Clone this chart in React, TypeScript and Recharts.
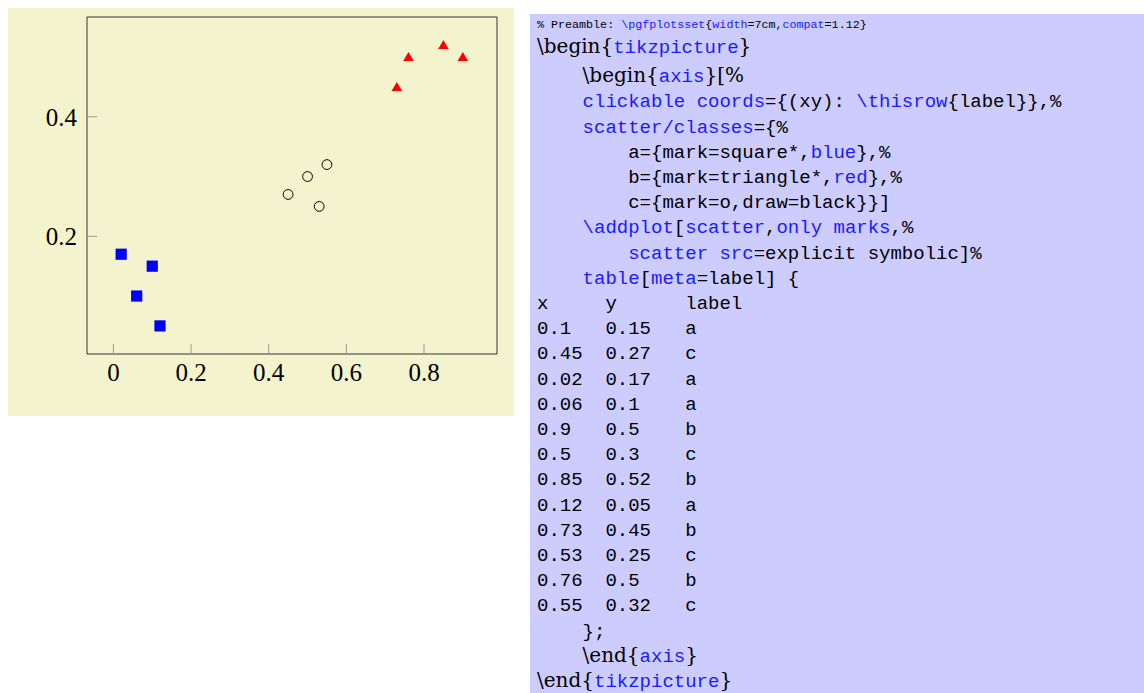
import React from 'react';
import { ScatterChart, Scatter, XAxis, YAxis } from 'recharts';

// table from the listing (x, y, class label)
const xValues = [0.1, 0.45, 0.02, 0.06, 0.9, 0.5, 0.85, 0.12, 0.73, 0.53, 0.76, 0.55];
const yValues = [0.15, 0.27, 0.17, 0.1, 0.5, 0.3, 0.52, 0.05, 0.45, 0.25, 0.5, 0.32];
const labels = ['a', 'c', 'a', 'a', 'b', 'c', 'b', 'a', 'b', 'c', 'b', 'c'];

const xTicks = [0, 0.2, 0.4, 0.6, 0.8];
const yTicks = [0.2, 0.4];
const xDomain = [-0.068, 0.988];
const yDomain = [0.003, 0.567];

const points = xValues.map((x, i) => ({ x, y: yValues[i], label: labels[i] }));
const classA = points.filter((p) => p.label === 'a');
const classB = points.filter((p) => p.label === 'b');
const classC = points.filter((p) => p.label === 'c');

const BLUE = '#1a1aff';
const MONO = '"Liberation Mono", monospace';
const ROMAN = '"DejaVu Serif", serif';

const SquareMark = (props: any) => (
  <rect x={props.cx - 5.6} y={props.cy - 5.6} width={11.2} height={11.2} fill="#0000ff" />
);
const TriangleMark = (props: any) => {
  const { cx, cy } = props;
  return <polygon points={`${cx},${cy - 5} ${cx + 5.3},${cy + 4} ${cx - 5.3},${cy + 4}`} fill="#ff0000" />;
};
const CircleMark = (props: any) => (
  <circle cx={props.cx} cy={props.cy} r={4.9} fill="none" stroke="#000" strokeWidth={1} />
);

type Seg = [string, 'k' | 'b' | 'r'];

const pad = (n: number) => ' '.repeat(n);
const tableRows: Seg[][] = points.map((p) => [
  [String(p.x).padEnd(6) + String(p.y).padEnd(7) + p.label, 'k'],
]);

const codeLines: Seg[][] = [
  [['\\begin{', 'r'], ['tikzpicture', 'b'], ['}', 'r']],
  [[pad(4), 'k'], ['\\begin{', 'r'], ['axis', 'b'], ['}[%', 'r']],
  [[pad(4), 'k'], ['clickable coords', 'b'], ['={(xy): ', 'k'], ['\\thisrow', 'b'], ['{label}},%', 'k']],
  [[pad(4), 'k'], ['scatter/classes', 'b'], ['={%', 'k']],
  [[pad(8) + 'a={mark=square*,', 'k'], ['blue', 'b'], ['},%', 'k']],
  [[pad(8) + 'b={mark=triangle*,', 'k'], ['red', 'b'], ['},%', 'k']],
  [[pad(8) + 'c={mark=o,draw=black}}]', 'k']],
  [[pad(4), 'k'], ['\\addplot', 'b'], ['[', 'k'], ['scatter', 'b'], [',', 'k'], ['only marks', 'b'], [',%', 'k']],
  [[pad(8), 'k'], ['scatter src', 'b'], ['=explicit symbolic]%', 'k']],
  [[pad(4), 'k'], ['table', 'b'], ['[', 'k'], ['meta', 'b'], ['=label] {', 'k']],
  [['x     y      label', 'k']],
  ...tableRows,
  [[pad(4) + '};', 'k']],
  [[pad(4), 'k'], ['\\end{', 'r'], ['axis', 'b'], ['}', 'r']],
  [['\\end{', 'r'], ['tikzpicture', 'b'], ['}', 'r']],
];

function renderSeg(seg: Seg, i: number) {
  const [text, kind] = seg;
  if (kind === 'r') {
    return (
      <span key={i} style={{ fontFamily: ROMAN, fontSize: 20, lineHeight: '15px', color: '#000' }}>
        {text}
      </span>
    );
  }
  return (
    <span key={i} style={{ color: kind === 'b' ? BLUE : '#000' }}>
      {text}
    </span>
  );
}

function CodePanel() {
  // baselines in page pixels
  const baselineOf = (i: number) => (i === 0 ? 54 : 82.7 + (i - 1) * 25.2);
  return (
    <div
      style={{
        position: 'absolute',
        left: 530,
        top: 14,
        width: 614,
        height: 679,
        background: '#ccccff',
        overflow: 'hidden',
      }}
    >
      <div
        style={{
          position: 'absolute',
          left: 7,
          top: 6,
          fontFamily: MONO,
          fontSize: 11.7,
          lineHeight: '11.7px',
          whiteSpace: 'pre',
          color: '#000',
        }}
      >
        <span>% Preamble: </span>
        <span style={{ color: BLUE }}>\pgfplotsset</span>
        <span>{'{'}</span>
        <span style={{ color: BLUE }}>width</span>
        <span>=7cm,</span>
        <span style={{ color: BLUE }}>compat</span>
        <span>{'=1.12}'}</span>
      </div>
      {codeLines.map((line, i) => (
        <div
          key={i}
          style={{
            position: 'absolute',
            left: 7,
            top: baselineOf(i) - 14.6 - 14,
            fontFamily: MONO,
            fontSize: 19,
            lineHeight: '19px',
            whiteSpace: 'pre',
            color: '#000',
          }}
        >
          {line.map(renderSeg)}
        </div>
      ))}
    </div>
  );
}

function ChartPanel() {
  const tickFont = { fill: '#000', fontSize: 25, fontFamily: '"Liberation Serif", serif' };
  const frame = '#333';
  const tickStroke = { stroke: '#999' };
  return (
    <div style={{ position: 'absolute', left: 8, top: 8, width: 506, height: 408, background: '#f3f4ce' }}>
      <ScatterChart width={506} height={408} margin={{ top: 8, right: 16, bottom: 61, left: 78 }}>
        <XAxis
          xAxisId="bottom"
          type="number"
          dataKey="x"
          domain={xDomain}
          allowDataOverflow
          ticks={xTicks}
          interval={0}
          height={1}
          stroke={frame}
          tickSize={-10}
          tickMargin={19}
          tickLine={tickStroke}
          tick={tickFont}
        />
        <XAxis
          xAxisId="top"
          orientation="top"
          type="number"
          dataKey="x"
          domain={xDomain}
          allowDataOverflow
          ticks={xTicks}
          interval={0}
          height={1}
          stroke={frame}
          tickSize={-10}
          tickLine={tickStroke}
          tick={false}
        />
        <YAxis
          yAxisId="left"
          type="number"
          dataKey="y"
          domain={yDomain}
          allowDataOverflow
          ticks={yTicks}
          interval={0}
          width={1}
          stroke={frame}
          tickSize={-10}
          tickMargin={20}
          tickLine={tickStroke}
          tick={tickFont}
        />
        <YAxis
          yAxisId="right"
          orientation="right"
          type="number"
          dataKey="y"
          domain={yDomain}
          allowDataOverflow
          ticks={yTicks}
          interval={0}
          width={1}
          stroke={frame}
          tickSize={-10}
          tickLine={tickStroke}
          tick={false}
        />
        <Scatter xAxisId="bottom" yAxisId="left" data={classA} shape={SquareMark} isAnimationActive={false} />
        <Scatter xAxisId="bottom" yAxisId="left" data={classB} shape={TriangleMark} isAnimationActive={false} />
        <Scatter xAxisId="bottom" yAxisId="left" data={classC} shape={CircleMark} isAnimationActive={false} />
      </ScatterChart>
    </div>
  );
}

export default function App() {
  return (
    <div style={{ position: 'absolute', left: 0, top: 0, width: 1144, height: 693, background: '#fff' }}>
      <ChartPanel />
      <CodePanel />
    </div>
  );
}
